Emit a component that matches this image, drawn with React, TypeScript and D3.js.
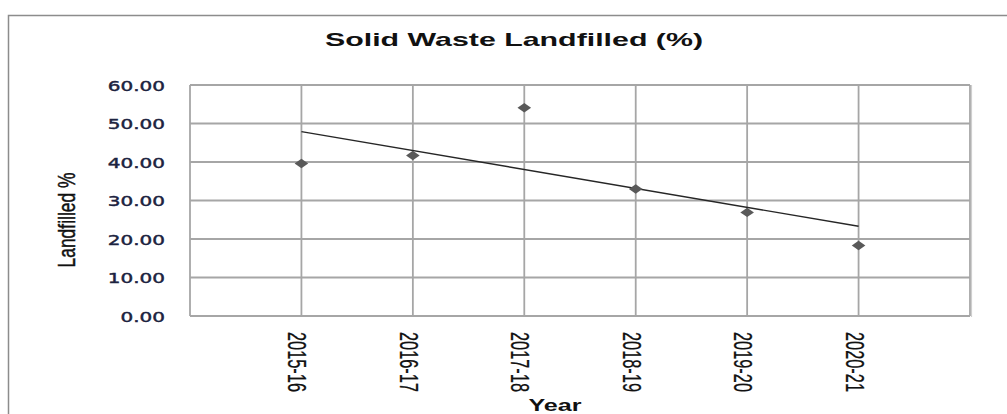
import React, { useEffect, useRef } from "react";
import * as d3 from "d3";

const years = ["2015-16", "2016-17", "2017-18", "2018-19", "2019-20", "2020-21"];
const landfilled = [39.6, 41.7, 54.1, 33.0, 26.9, 18.3];
const yTicks = [0, 10, 20, 30, 40, 50, 60];

// the source picture is stretched sideways, so text is widened to match
const SX = 1.36;

const App = () => {
  const ref = useRef(null);

  useEffect(() => {
    const svg = d3.select(ref.current);
    svg.selectAll("*").remove();

    const left = 190, right = 970, top = 85, bottom = 316;
    const x = d3.scaleLinear().domain([0, years.length + 1]).range([left, right]);
    const y = d3.scaleLinear().domain([0, 60]).range([bottom, top]);

    // outer chart frame (only top and left edges show)
    svg.append("path")
      .attr("d", "M8.5,414 V15.5 H1007")
      .attr("fill", "none")
      .attr("stroke", "#8c8c8c")
      .attr("stroke-width", 1.5);

    // title
    svg.append("text")
      .attr("transform", `translate(514,46) scale(${SX},1)`)
      .attr("text-anchor", "middle")
      .style("font-family", "'Liberation Sans', Arial, sans-serif")
      .style("font-weight", "bold")
      .style("font-size", "18px")
      .attr("fill", "#111")
      .attr("textLength", 378 / SX)
      .attr("lengthAdjust", "spacingAndGlyphs")
      .text("Solid Waste Landfilled (%)");

    // grid
    const grid = svg.append("g").attr("stroke", "#a6a6a6").attr("stroke-width", 1.8);
    grid.selectAll("line.h")
      .data(yTicks)
      .enter()
      .append("line")
      .attr("class", "h")
      .attr("x1", left).attr("x2", right)
      .attr("y1", d => y(d)).attr("y2", d => y(d));
    grid.selectAll("line.v")
      .data(d3.range(years.length + 2))
      .enter()
      .append("line")
      .attr("class", "v")
      .attr("x1", d => x(d)).attr("x2", d => x(d))
      .attr("y1", top).attr("y2", bottom);
    // right edge has a faint shadow
    svg.append("line")
      .attr("x1", right + 1.5).attr("x2", right + 1.5)
      .attr("y1", top).attr("y2", bottom + 1)
      .attr("stroke", "#cfcfcf").attr("stroke-width", 1.2);

    // y tick labels
    svg.selectAll("text.ytick")
      .data(yTicks)
      .enter()
      .append("text")
      .attr("class", "ytick")
      .attr("transform", d => `translate(165,${y(d) + 5.5}) scale(${SX},1)`)
      .attr("text-anchor", "end")
      .style("font-family", "'DejaVu Sans', Verdana, sans-serif")
      .style("font-size", "14.7px")
      .attr("fill", "#1c2340")
      .attr("stroke", "#1c2340")
      .attr("stroke-width", 0.45)
      .text(d => d3.format(".2f")(d));

    // y axis title
    svg.append("text")
      .attr("transform", `translate(75,220) scale(${SX},1) rotate(-90)`)
      .attr("text-anchor", "middle")
      .style("font-family", "'Liberation Sans Narrow', 'Liberation Sans', Arial, sans-serif")
      .style("font-size", "18px")
      .attr("fill", "#111")
      .attr("stroke", "#111")
      .attr("stroke-width", 0.35)
      .attr("textLength", 95)
      .attr("lengthAdjust", "spacingAndGlyphs")
      .text("Landfilled %");

    // x tick labels, rotated
    svg.selectAll("text.xtick")
      .data(years)
      .enter()
      .append("text")
      .attr("class", "xtick")
      .attr("transform", (d, i) => `translate(${x(i + 1) - 13},332) scale(${SX},1) rotate(90)`)
      .attr("text-anchor", "start")
      .style("font-family", "'Liberation Sans Narrow', 'Liberation Sans', Arial, sans-serif")
      .style("font-size", "19.5px")
      .attr("fill", "#111")
      .attr("stroke", "#111")
      .attr("stroke-width", 0.2)
      .attr("textLength", 60)
      .attr("lengthAdjust", "spacingAndGlyphs")
      .text(d => d);

    // x axis title
    svg.append("text")
      .attr("transform", `translate(555,411) scale(${SX},1)`)
      .attr("text-anchor", "middle")
      .style("font-family", "'Liberation Sans', Arial, sans-serif")
      .style("font-weight", "bold")
      .style("font-size", "17px")
      .attr("fill", "#111")
      .attr("textLength", 53 / SX)
      .attr("lengthAdjust", "spacingAndGlyphs")
      .text("Year");

    // linear trend line (least squares)
    const xs = landfilled.map((d, i) => i + 1);
    const mx = d3.mean(xs);
    const my = d3.mean(landfilled);
    const slope =
      d3.sum(xs, (xi, i) => (xi - mx) * (landfilled[i] - my)) /
      d3.sum(xs, xi => (xi - mx) * (xi - mx));
    const icpt = my - slope * mx;
    const ends = [1, years.length];
    svg.append("path")
      .attr("d", d3.line()(ends.map(v => [x(v), y(icpt + slope * v)])))
      .attr("fill", "none")
      .attr("stroke", "#262626")
      .attr("stroke-width", 1.4);

    // diamond markers
    const diamond = d3.symbol(d3.symbolSquare, 44);
    svg.selectAll("path.pt")
      .data(landfilled)
      .enter()
      .append("path")
      .attr("class", "pt")
      .attr("d", diamond)
      .attr("transform", (d, i) => `translate(${x(i + 1)},${y(d)}) scale(1.45,1) rotate(45)`)
      .attr("fill", "#595959");
  }, []);

  return (
    <div style={{ position: "absolute", left: 0, top: 0 }}>
      <svg ref={ref} width={1007} height={414} style={{ display: "block", background: "#fff" }} />
    </div>
  );
};

export default App;
